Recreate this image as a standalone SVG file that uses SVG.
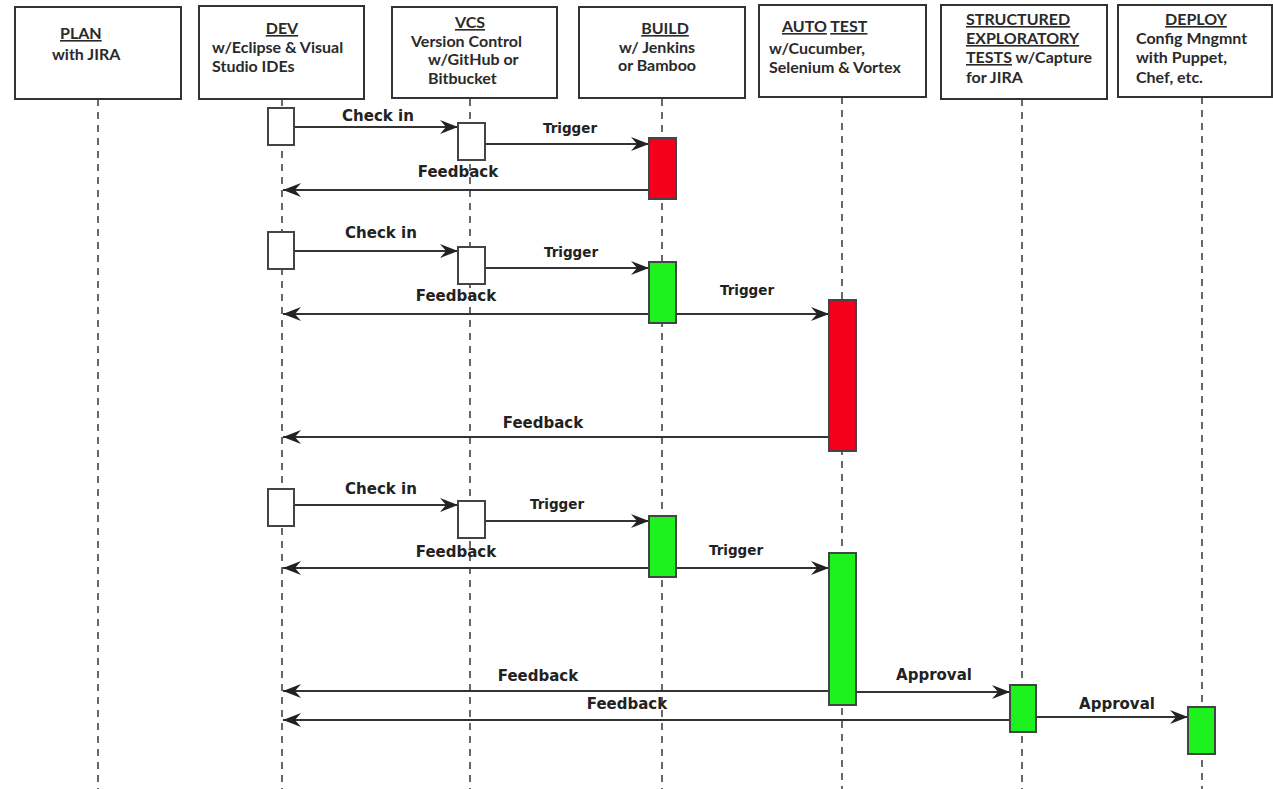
<svg xmlns="http://www.w3.org/2000/svg" width="1273" height="789" viewBox="0 0 1273 789">
<defs>
<marker id="ah" markerUnits="userSpaceOnUse" markerWidth="20" markerHeight="16" refX="18" refY="7" orient="auto-start-reverse" viewBox="0 0 20 14">
<path d="M0,0 L18,7 L0,14 L6,7 Z" fill="#222"/>
</marker>
<style>
.hdr{fill:#fff;stroke:#333;stroke-width:2}
.ht{font-family:Lato,"Liberation Sans",sans-serif;font-weight:bold;font-size:16px;fill:#2a2a2a}
.u{text-decoration:underline}
.life{stroke:#444;stroke-width:1.6;stroke-dasharray:7 6;fill:none}
.act{stroke:#444;stroke-width:2}
.w{fill:#fff}
.r{fill:#f5001c}
.g{fill:#1ef21e}
.msg{stroke:#333;stroke-width:2;fill:none;marker-end:url(#ah)}
.ml{font-family:"DejaVu Sans",sans-serif;font-weight:bold;font-size:15px;fill:#222;text-anchor:middle}
.tr{font-size:13.5px}
</style>
</defs>
<rect width="1273" height="789" fill="#fff"/>

<g id="lifelines">
<line class="life" x1="98" y1="99" x2="98" y2="789"/>
<line class="life" x1="282" y1="99" x2="282" y2="789"/>
<line class="life" x1="470" y1="99" x2="470" y2="789"/>
<line class="life" x1="662" y1="99" x2="662" y2="789"/>
<line class="life" x1="842" y1="97" x2="842" y2="789"/>
<line class="life" x1="1022" y1="99" x2="1022" y2="789"/>
<line class="life" x1="1202" y1="97" x2="1202" y2="789"/>
</g>

<g id="plan">
<rect class="hdr" x="15" y="7" width="166" height="92"/>
<text class="ht" x="60" y="39"><tspan class="u">PLAN</tspan></text>
<text class="ht" x="52" y="60">with JIRA</text>
</g>
<g id="dev">
<rect class="hdr" x="199" y="6" width="165" height="93"/>
<text class="ht" x="282" y="34" text-anchor="middle"><tspan class="u">DEV</tspan></text>
<text class="ht" x="212" y="53">w/Eclipse &amp; Visual</text>
<text class="ht" x="212" y="72">Studio IDEs</text>
</g>
<g id="vcs">
<rect class="hdr" x="392" y="7" width="165" height="91"/>
<text class="ht" x="470" y="28" text-anchor="middle"><tspan class="u">VCS</tspan></text>
<text class="ht" x="411" y="47">Version Control</text>
<text class="ht" x="428" y="65">w/GitHub or</text>
<text class="ht" x="428" y="84">Bitbucket</text>
</g>
<g id="build">
<rect class="hdr" x="579" y="7" width="166" height="91"/>
<text class="ht" x="665" y="34" text-anchor="middle"><tspan class="u">BUILD</tspan></text>
<text class="ht" x="657" y="53" text-anchor="middle">w/ Jenkins</text>
<text class="ht" x="657" y="71" text-anchor="middle">or Bamboo</text>
</g>
<g id="autotest">
<rect class="hdr" x="759" y="5" width="167" height="92"/>
<text class="ht" x="782" y="32"><tspan class="u">AUTO</tspan> <tspan class="u">TEST</tspan></text>
<text class="ht" x="769" y="54">w/Cucumber,</text>
<text class="ht" x="769" y="73">Selenium &amp; Vortex</text>
</g>
<g id="structured">
<rect class="hdr" x="941" y="5" width="166" height="94"/>
<text class="ht" x="966" y="25"><tspan class="u">STRUCTURED</tspan></text>
<text class="ht" x="966" y="44"><tspan class="u">EXPLORATORY</tspan></text>
<text class="ht" x="966" y="63"><tspan class="u">TESTS</tspan> w/Capture</text>
<text class="ht" x="966" y="83">for JIRA</text>
</g>
<g id="deploy">
<rect class="hdr" x="1118" y="5" width="154" height="92"/>
<text class="ht" x="1196" y="25" text-anchor="middle"><tspan class="u">DEPLOY</tspan></text>
<text class="ht" x="1136" y="44">Config Mngmnt</text>
<text class="ht" x="1136" y="63">with Puppet,</text>
<text class="ht" x="1136" y="83">Chef, etc.</text>
</g>

<g id="connectors">
<line class="msg" x1="294" y1="127" x2="458" y2="127"/>
<line class="msg" x1="485" y1="144" x2="649" y2="144"/>
<line class="msg" x1="649" y1="190" x2="283" y2="190"/>

<line class="msg" x1="294" y1="251" x2="458" y2="251"/>
<line class="msg" x1="485" y1="268" x2="649" y2="268"/>
<line class="msg" x1="649" y1="314" x2="283" y2="314"/>
<line class="msg" x1="676" y1="314" x2="829" y2="314"/>
<line class="msg" x1="829" y1="437" x2="283" y2="437"/>

<line class="msg" x1="294" y1="505" x2="458" y2="505"/>
<line class="msg" x1="485" y1="521" x2="649" y2="521"/>
<line class="msg" x1="649" y1="568" x2="283" y2="568"/>
<line class="msg" x1="676" y1="568" x2="829" y2="568"/>
<line class="msg" x1="829" y1="691" x2="283" y2="691"/>
<line class="msg" x1="856" y1="692" x2="1010" y2="692"/>
<line class="msg" x1="1010" y1="720" x2="283" y2="720"/>
<line class="msg" x1="1036" y1="717" x2="1188" y2="717"/>
</g>

<g id="labels">
<text class="ml" x="378" y="121">Check in</text>
<text class="ml tr" x="570" y="133">Trigger</text>
<text class="ml" x="458" y="177">Feedback</text>
<text class="ml" x="381" y="238">Check in</text>
<text class="ml tr" x="571" y="257">Trigger</text>
<text class="ml" x="456" y="301">Feedback</text>
<text class="ml tr" x="747" y="295">Trigger</text>
<text class="ml" x="543" y="428">Feedback</text>
<text class="ml" x="381" y="494">Check in</text>
<text class="ml tr" x="557" y="509">Trigger</text>
<text class="ml" x="456" y="557">Feedback</text>
<text class="ml tr" x="736" y="555">Trigger</text>
<text class="ml" x="538" y="681">Feedback</text>
<text class="ml" x="934" y="680">Approval</text>
<text class="ml" x="627" y="709">Feedback</text>
<text class="ml" x="1117" y="709">Approval</text>
</g>

<g id="activations">
<rect class="act w" x="268" y="108" width="26" height="37"/>
<rect class="act w" x="458" y="123" width="27" height="37"/>
<rect class="act r" x="649" y="138" width="27" height="61"/>
<rect class="act w" x="268" y="232" width="26" height="37"/>
<rect class="act w" x="458" y="247" width="27" height="37"/>
<rect class="act g" x="649" y="262" width="27" height="61"/>
<rect class="act r" x="829" y="300" width="27" height="151"/>
<rect class="act w" x="268" y="489" width="26" height="37"/>
<rect class="act w" x="458" y="501" width="27" height="37"/>
<rect class="act g" x="649" y="516" width="27" height="61"/>
<rect class="act g" x="829" y="553" width="27" height="152"/>
<rect class="act g" x="1010" y="685" width="26" height="47"/>
<rect class="act g" x="1188" y="707" width="27" height="47"/>
</g>
</svg>
